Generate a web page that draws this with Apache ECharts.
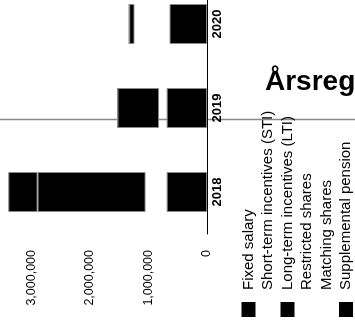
<!DOCTYPE html>
<html>
<head>
<meta charset="utf-8">
<title>Årsregnskab – vederlag</title>
<script src="https://cdn.jsdelivr.net/npm/echarts@6/dist/echarts.min.js"></script>
<style>
  html, body { margin: 0; padding: 0; width: 355px; height: 321px; overflow: hidden; background: #fff; }
  /* The chart is laid out upright and turned a quarter turn counter-clockwise. */
  #chart {
    position: absolute; left: 0; top: 0;
    width: 360px; height: 440px;
    transform-origin: 0 0;
    transform: translate(-40px, 321px) rotate(-90deg);
  }
</style>
</head>
<body>
<div id="chart"></div>
<script>
// Remuneration per year, stacked by component
const years = ['2018', '2019', '2020'];
const fixedSalary         = [690000, 690000, 640000];
const shortTermIncentives = [360000, 130000, 600000];
const longTermIncentives  = [1846000, 710000, 90000];
const restrictedShares    = [0, 0, 0];
const matchingShares      = [0, 0, 0];
const supplementalPension = [500000, 0, 0];
const valueTicks = [0, 1000000, 2000000, 3000000, 4000000];

const titleText = 'Årsregnskab';
const FONT = '"Liberation Sans", Arial, Helvetica, sans-serif';

const components = [
  { name: 'Fixed salary', data: fixedSalary, color: '#000000' },
  { name: 'Short-term incentives (STI)', data: shortTermIncentives, color: 'rgba(0,0,0,0)' },
  { name: 'Long-term incentives (LTI)', data: longTermIncentives, color: '#000000' },
  { name: 'Restricted shares', data: restrictedShares, color: 'rgba(0,0,0,0)' },
  { name: 'Matching shares', data: matchingShares, color: 'rgba(0,0,0,0)' },
  { name: 'Supplemental pension', data: supplementalPension, color: '#000000' }
];

const chart = echarts.init(document.getElementById('chart'), null, { renderer: 'canvas' });

chart.setOption({
  animation: false,
  textStyle: { fontFamily: FONT },
  grid: { left: 87, right: 21, top: 13, bottom: 193, containLabel: false },
  legend: {
    orient: 'vertical',
    left: 4,
    top: 281,
    padding: 0,
    icon: 'rect',
    itemWidth: 15,
    itemHeight: 14,
    itemGap: 4.5,
    selectedMode: false,
    itemStyle: { borderWidth: 0 },
    textStyle: { fontFamily: FONT, fontSize: 15, color: '#000', padding: [0, 0, 0, 7] },
    data: components.map(c => c.name)
  },
  xAxis: {
    type: 'category',
    data: years,
    axisLine: { show: true, lineStyle: { color: '#000', width: 1 } },
    axisTick: { show: false },
    axisLabel: { color: '#000', fontWeight: 'bold', fontSize: 13, fontFamily: FONT, margin: 4 },
    splitLine: { show: false }
  },
  yAxis: {
    type: 'value',
    min: valueTicks[0],
    max: valueTicks[valueTicks.length - 1],
    interval: valueTicks[1] - valueTicks[0],
    axisLine: { show: false },
    axisTick: { show: false },
    splitLine: { show: false },
    axisLabel: {
      color: '#000', fontSize: 12.5, fontFamily: FONT, margin: 16,
      formatter: v => v.toLocaleString('en-US')
    }
  },
  graphic: [
    {
      type: 'line',
      z: 0,
      shape: { x1: 201.5, y1: 0, x2: 201.5, y2: 440 },
      style: { stroke: '#888', lineWidth: 1.5 }
    },
    {
      type: 'text',
      z: 10,
      x: 239,
      y: 305,
      rotation: -Math.PI / 2,
      style: {
        text: titleText,
        font: 'bold 28px ' + FONT,
        fill: '#000',
        align: 'left',
        verticalAlign: 'middle'
      }
    }
  ],
  series: components.map(c => ({
    name: c.name,
    type: 'bar',
    stack: 'total',
    barWidth: 40,
    data: c.data,
    itemStyle: {
      color: c.color,
      borderColor: c.color === '#000000' ? '#8a8a8a' : 'rgba(0,0,0,0)',
      borderWidth: c.color === '#000000' ? 1 : 0
    },
    emphasis: { disabled: true }
  }))
});
</script>
</body>
</html>
